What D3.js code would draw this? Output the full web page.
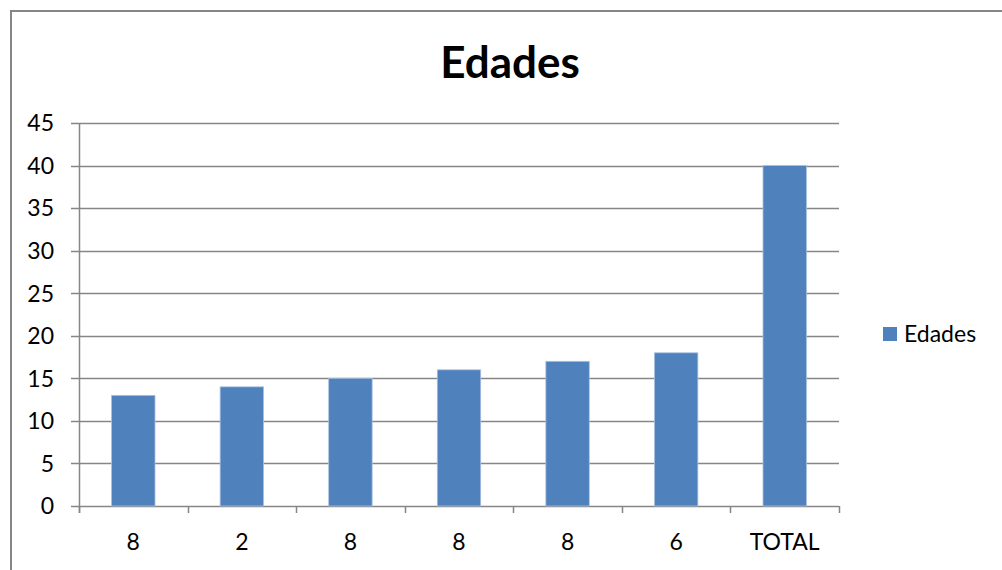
<!DOCTYPE html>
<html>
<head>
<meta charset="utf-8">
<script src="https://cdn.jsdelivr.net/npm/d3@7"></script>
<style>
  html, body { margin: 0; padding: 0; background: #fff; }
  svg { display: block; }
  text { font-family: Lato, "Liberation Sans", sans-serif; fill: #000; }
</style>
</head>
<body>
<script>
// Chart data
const categories = ["8", "2", "8", "8", "8", "6", "TOTAL"];
const values = [13, 14, 15, 16, 17, 18, 40];
const yTicks = [0, 5, 10, 15, 20, 25, 30, 35, 40, 45];
const seriesName = "Edades";
const chartTitle = "Edades";

const W = 1002, H = 570;
const svg = d3.select("body").append("svg").attr("width", W).attr("height", H);

// outer chart frame (continues past the right and bottom edges)
svg.append("rect")
  .attr("x", 11).attr("y", 11).attr("width", 1010).attr("height", 580)
  .attr("fill", "#fff").attr("stroke", "#868686").attr("stroke-width", 2);

const plot = { left: 79, right: 839, top: 123, bottom: 506 };

const x = d3.scaleBand().domain(d3.range(categories.length))
  .range([plot.left, plot.right]).paddingInner(0.6).paddingOuter(0.3);
const xEdge = d3.scaleLinear().domain([0, categories.length]).range([plot.left, plot.right]);
const y = d3.scaleLinear().domain([0, 45]).range([plot.bottom, plot.top]);

// horizontal gridlines with outward tick marks
svg.append("g").selectAll("line").data(yTicks).join("line")
  .attr("x1", plot.left - 8).attr("x2", plot.right)
  .attr("y1", d => Math.round(y(d)) + 0.5).attr("y2", d => Math.round(y(d)) + 0.5)
  .attr("stroke", "#868686").attr("stroke-width", 1.5);

// y axis line
svg.append("line")
  .attr("x1", plot.left + 0.5).attr("x2", plot.left + 0.5)
  .attr("y1", plot.top).attr("y2", plot.bottom + 7)
  .attr("stroke", "#868686").attr("stroke-width", 1.5);

// category boundary ticks below the axis
svg.append("g").selectAll("line").data(d3.range(categories.length + 1)).join("line")
  .attr("x1", d => Math.round(xEdge(d)) + 0.5).attr("x2", d => Math.round(xEdge(d)) + 0.5)
  .attr("y1", plot.bottom).attr("y2", plot.bottom + 7)
  .attr("stroke", "#868686").attr("stroke-width", 1.5);

// bars
svg.append("g").selectAll("rect").data(values).join("rect")
  .attr("x", (d, i) => x(i))
  .attr("y", d => y(d))
  .attr("width", x.bandwidth())
  .attr("height", d => plot.bottom - y(d))
  .attr("fill", "#4F81BD")
  .attr("stroke", "#A9C1E0").attr("stroke-width", 0.8);

// y tick labels
svg.append("g").selectAll("text").data(yTicks).join("text")
  .attr("x", 54).attr("y", d => y(d))
  .attr("dy", "0.36em").attr("text-anchor", "end")
  .attr("font-size", 23).text(d => d);

// x tick labels
svg.append("g").selectAll("text").data(categories).join("text")
  .attr("x", (d, i) => x(i) + x.bandwidth() / 2).attr("y", 550)
  .attr("text-anchor", "middle").attr("font-size", 23).text(d => d);

// title
svg.append("text").attr("x", 510).attr("y", 78)
  .attr("text-anchor", "middle").attr("font-size", 44).attr("font-weight", "bold")
  .text(chartTitle);

// legend
svg.append("rect").attr("x", 883).attr("y", 327).attr("width", 14).attr("height", 14)
  .attr("fill", "#4F81BD");
svg.append("text").attr("x", 904).attr("y", 342).attr("font-size", 23).text(seriesName);
</script>
</body>
</html>
